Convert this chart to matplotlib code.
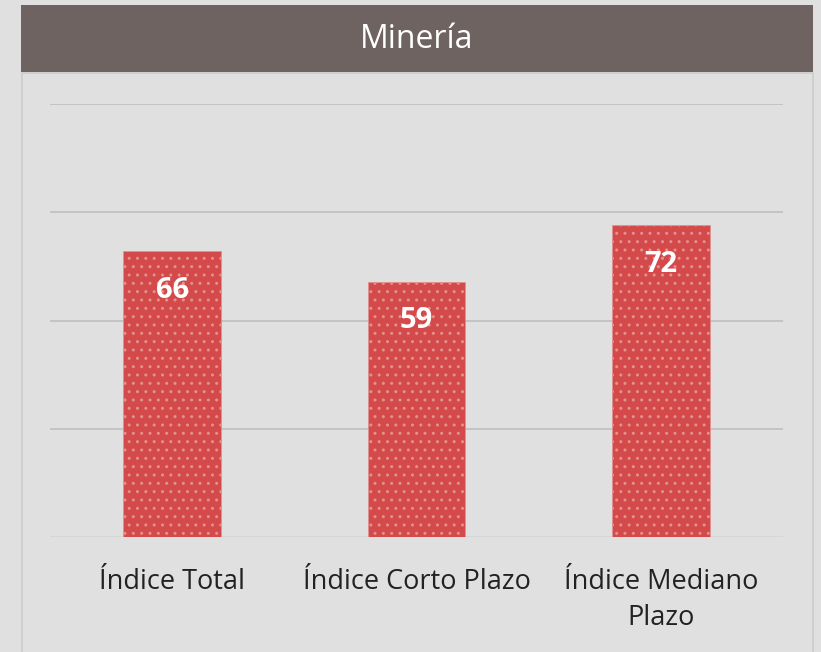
import matplotlib.pyplot as plt
from matplotlib.patches import Rectangle

categorias = ["Índice Total", "Índice Corto Plazo", "Índice Mediano\nPlazo"]
valores = [66, 59, 72]
titulo = "Minería"

plt.rcParams['font.family'] = ['Open Sans', 'DejaVu Sans']
plt.rcParams['hatch.color'] = '#eca5a5'
plt.rcParams['hatch.linewidth'] = 1.0

W, H = 821, 652
fig = plt.figure(figsize=(W / 100, H / 100), dpi=100)
fig.patch.set_facecolor('#e0e0e0')

# barra del título
fig.add_artist(Rectangle((21 / W, 1 - 72 / H), (813 - 21) / W, (72 - 5) / H,
                         transform=fig.transFigure, facecolor='#6e6361',
                         edgecolor='none'))
fig.text(417 / W, 1 - 40 / H, titulo, color='white', fontsize=23,
         ha='center', va='center')
# borde del panel
fig.add_artist(Rectangle((22 / W, -0.01), (813 - 22) / W, 1 - 73 / H + 0.01,
                         transform=fig.transFigure, facecolor='none',
                         edgecolor='#cccccc', linewidth=1.2))

ax = fig.add_axes([50 / W, 1 - 537 / H, (783 - 50) / W, (537 - 104) / H])
ax.set_facecolor('none')
x = range(len(categorias))
bars = ax.bar(x, valores, width=0.4, color='#d44a4b', hatch='..',
              edgecolor='#e39090', linewidth=0.5, zorder=3)
ax.set_ylim(0, 100)
ax.set_xlim(-0.5, len(categorias) - 0.5)
ax.set_yticks([25, 50, 75, 100])
ax.grid(axis='y', color='#c2c2c2', linewidth=1.3, zorder=0)
ax.axhline(0, color='#d6d6d6', linewidth=1.3, zorder=1)
for s in ax.spines.values():
    s.set_visible(False)
ax.tick_params(left=False, labelleft=False, bottom=False)
ax.set_xticks(list(x))
ax.set_xticklabels(categorias, fontsize=19.5, color='#222222', linespacing=1.38)
ax.tick_params(axis='x', pad=19)

for b, v in zip(bars, valores):
    ax.annotate(str(v), (b.get_x() + b.get_width() / 2, v), xytext=(0, -39),
                textcoords='offset pixels', ha='center', va='center',
                color='white', fontsize=21, fontweight='bold', zorder=4)

fig.savefig('out.png', dpi=100, facecolor=fig.get_facecolor())
